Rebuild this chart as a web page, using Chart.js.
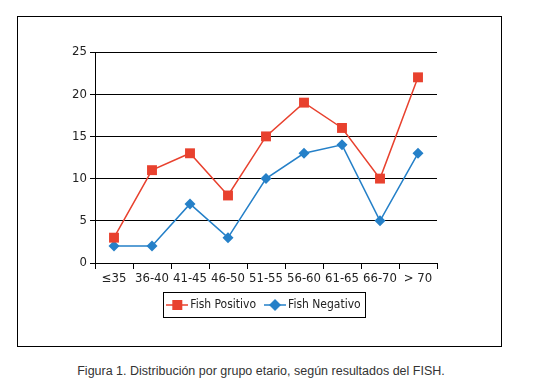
<!DOCTYPE html>
<html>
<head>
<meta charset="utf-8">
<script src="https://cdn.jsdelivr.net/npm/chart.js@4/dist/chart.umd.min.js"></script>
<style>
  body { margin: 0; background: #fff; width: 533px; height: 385px; position: relative; overflow: hidden; }
  #frame { position: absolute; left: 17px; top: 16px; width: 483px; height: 329px; border: 1px solid #000; }
  #caption { position: absolute; left: 0; width: 522px; top: 364px; text-align: center;
             font-family: 'Liberation Sans', Arial, sans-serif; font-size: 12.5px; color: #333; }
</style>
</head>
<body>
<div id="frame"><canvas id="fishChart" width="483" height="329"></canvas></div>
<div id="caption">Figura 1. Distribución por grupo etario, según resultados del FISH.</div>
<script>
// age groups and counts
const ageGroups = ['≤35', '36-40', '41-45', '46-50', '51-55', '56-60', '61-65', '66-70', '> 70'];
const fishPositivo = [3, 11, 13, 8, 15, 19, 16, 10, 22];
const fishNegativo = [2, 2, 7, 3, 10, 13, 14, 5, 13];
const yTicks = [0, 5, 10, 15, 20, 25];

const red = '#e8412e';
const blue = '#2580c8';
const narrow = "'Liberation Sans Narrow', 'DejaVu Sans Condensed', sans-serif";

// small legend icons: a line with the marker on it
function legendIcon(color, shape) {
    const c = document.createElement('canvas');
    c.width = 22; c.height = 14;
    const g = c.getContext('2d');
    g.strokeStyle = color; g.lineWidth = 1.5;
    g.beginPath(); g.moveTo(0, 7); g.lineTo(22, 7); g.stroke();
    g.fillStyle = color;
    if (shape === 'square') {
        g.fillRect(6, 2, 10, 10);
    } else {
        g.beginPath(); g.moveTo(11, 1); g.lineTo(17, 7); g.lineTo(11, 13); g.lineTo(5, 7); g.closePath(); g.fill();
    }
    return c;
}

// draws the frame round the legend items
const legendFrame = {
    id: 'legendFrame',
    afterDraw(chart) {
        const boxes = chart.legend.legendHitBoxes;
        if (!boxes || !boxes.length) return;
        const left = Math.min(...boxes.map(b => b.left)) - 7;
        const right = Math.max(...boxes.map(b => b.left + b.width)) + 5;
        const top = Math.min(...boxes.map(b => b.top)) - 7;
        const bottom = Math.max(...boxes.map(b => b.top + b.height)) + 6;
        const ctx = chart.ctx;
        ctx.save();
        ctx.strokeStyle = '#000';
        ctx.lineWidth = 1;
        ctx.strokeRect(Math.round(left) + 0.5, Math.round(top) + 0.5, Math.round(right - left), Math.round(bottom - top));
        ctx.restore();
    }
};

new Chart(document.getElementById('fishChart'), {
    type: 'line',
    data: {
        labels: ageGroups,
        datasets: [
            {
                label: 'Fish Positivo',
                data: fishPositivo,
                borderColor: red,
                backgroundColor: red,
                borderWidth: 1.5,
                pointStyle: 'rect',
                pointRadius: 7,
                pointBorderWidth: 0,
                tension: 0
            },
            {
                label: 'Fish Negativo',
                data: fishNegativo,
                borderColor: blue,
                backgroundColor: blue,
                borderWidth: 1.5,
                pointStyle: 'rectRot',
                pointRadius: 5.5,
                pointBorderWidth: 0,
                tension: 0
            }
        ]
    },
    options: {
        responsive: false,
        animation: false,
        layout: { padding: { top: 35, right: 0, left: 12, bottom: 25 } },
        plugins: {
            tooltip: { enabled: false },
            legend: {
                position: 'bottom',
                labels: {
                    usePointStyle: true,
                    pointStyleWidth: 14,
                    padding: 12,
                    color: '#222',
                    font: { family: narrow, size: 12 },
                    generateLabels(chart) {
                        return chart.data.datasets.map((ds, i) => ({
                            text: ds.label,
                            pointStyle: legendIcon(ds.borderColor, i === 0 ? 'square' : 'diamond'),
                            fillStyle: ds.borderColor,
                            strokeStyle: ds.borderColor,
                            lineWidth: 0,
                            fontColor: '#222',
                            datasetIndex: i
                        }));
                    }
                }
            }
        },
        scales: {
            x: {
                offset: true,
                grid: { offset: true, drawOnChartArea: false, color: '#000', tickLength: 6 },
                border: { color: '#000', width: 1 },
                ticks: { color: '#222', font: { family: narrow, size: 13 }, padding: 2, maxRotation: 0 },
                afterFit(scale) { scale.height = 24; }
            },
            y: {
                min: 0,
                max: 25,
                afterBuildTicks(scale) { scale.ticks = yTicks.map(v => ({ value: v })); },
                grid: { color: '#000', lineWidth: 1, tickLength: 5 },
                border: { color: '#000', width: 1 },
                ticks: { color: '#222', font: { family: narrow, size: 13 }, padding: 3 },
                afterFit(scale) { scale.width = 65; }
            },
            // empty right axis, only keeps the space right of the plot
            yRight: {
                position: 'right',
                min: 0,
                max: 25,
                grid: { display: false },
                border: { display: false },
                ticks: { display: false },
                afterFit(scale) { scale.width = 64; }
            }
        }
    },
    plugins: [legendFrame]
});
</script>
</body>
</html>
